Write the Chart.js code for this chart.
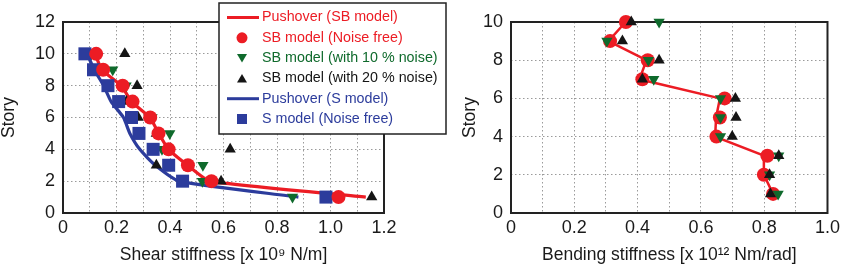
<!DOCTYPE html>
<html>
<head>
<meta charset="utf-8">
<title>Shear and bending stiffness per story</title>
<script src="https://cdn.jsdelivr.net/npm/chart.js"></script>
<style>
  html, body { margin: 0; padding: 0; background: #fff; }
  #wrap { position: relative; width: 844px; height: 267px; }
  #shearChart { position: absolute; left: 0; top: 0; }
  #bendChart { position: absolute; left: 450px; top: 0; }
</style>
</head>
<body>
<div id="wrap">
  <canvas id="shearChart" width="450" height="267"></canvas>
  <canvas id="bendChart" width="394" height="267"></canvas>
</div>
<script>
var stories = [1, 2, 3, 4, 5, 6, 7, 8, 9, 10];

// shear stiffness, x 10^9 N/m (story 1 .. 10)
var shearPushSB = [1.132, 0.548, 0.466, 0.394, 0.358, 0.325, 0.256, 0.218, 0.145, 0.120];
var shearSB     = [1.030, 0.555, 0.467, 0.395, 0.357, 0.326, 0.260, 0.223, 0.150, 0.124];
var shearSB10   = [0.858, 0.521, 0.523, 0.370, 0.399, 0.333, 0.255, 0.236, 0.186, 0.106];
var shearSB20   = [1.154, 0.591, 0.349, 0.625, 0.349, 0.281, 0.237, 0.277, 0.148, 0.231];
var shearPushS  = [0.880, 0.435, 0.345, 0.287, 0.250, 0.226, 0.180, 0.152, 0.117, 0.090];
var shearS      = [0.983, 0.447, 0.395, 0.337, 0.284, 0.256, 0.208, 0.168, 0.114, 0.082];

// bending stiffness, x 10^12 Nm/rad (story 1 .. 10)
var bendPushSB = [0.828, 0.799, 0.799, 0.645, 0.648, 0.660, 0.406, 0.428, 0.308, 0.362];
var bendSB     = [0.828, 0.799, 0.810, 0.649, 0.660, 0.675, 0.415, 0.432, 0.313, 0.363];
var bendSB10   = [0.844, 0.817, 0.846, 0.662, 0.662, 0.662, 0.451, 0.434, 0.303, 0.468];
var bendSB20   = [0.820, 0.817, 0.846, 0.699, 0.711, 0.709, 0.415, 0.468, 0.352, 0.380];

// labels for every second grid line (grid is every 0.1)
var shearTickLabels = ['0', '0.2', '0.4', '0.6', '0.8', '1.0', '1.2'];
var bendTickLabels  = ['0', '0.2', '0.4', '0.6', '0.8', '1.0'];

var RED = '#ec1c24', GREEN = '#0f6a2c', BLACK = '#151515', BLUE = '#2c3c9c';

Chart.defaults.font.family = "'Liberation Sans', Arial, sans-serif";
Chart.defaults.font.size = 18;
Chart.defaults.color = '#1a1a1a';

function pts(xs) {
    return xs.map(function(v, i) { return {x: v, y: stories[i]}; });
}

function lineSet(label, xs, color, width, order, tension) {
    return { label: label, data: pts(xs), showLine: true, borderColor: color, borderWidth: width,
             pointRadius: 0, tension: tension, order: order, clip: false };
}

function markSet(label, xs, color, style, radius, rotation, order) {
    return { label: label, data: pts(xs), showLine: false, pointStyle: style, pointRadius: radius,
             pointRotation: rotation, backgroundColor: color, borderColor: color, pointBorderWidth: 0,
             order: order, clip: false };
}

// black frame round the plot area
var framePlugin = {
    id: 'frame',
    beforeDatasetsDraw: function(chart) {
        var a = chart.chartArea, ctx = chart.ctx;
        ctx.save();
        ctx.strokeStyle = '#222';
        ctx.lineWidth = 2;
        ctx.strokeRect(a.left, a.top, a.right - a.left, a.bottom - a.top);
        ctx.restore();
    }
};

function scales(xMax, xLabels, xTitle, yMax, yWidth, xHeight, yTitlePad) {
    return {
        x: {
            type: 'linear', min: 0, max: xMax,
            afterFit: function(s) { s.height = xHeight; },
            ticks: {
                stepSize: 0.1, autoSkip: false, maxRotation: 0, padding: 4,
                callback: function(v, i) { return i % 2 === 0 ? xLabels[i / 2] : ''; }
            },
            grid: { color: '#9a9a9a', drawTicks: false },
            border: { display: false, dash: [1.5, 2.5] },
            title: { display: true, text: xTitle, font: { size: 17.5, lineHeight: 1 }, padding: { top: 0, bottom: 3.5 } }
        },
        y: {
            min: 0, max: yMax,
            afterFit: function(s) { s.width = yWidth; },
            ticks: { stepSize: 2, padding: 8 },
            grid: { color: '#9a9a9a', drawTicks: false },
            border: { display: false, dash: [1.5, 2.5] },
            title: { display: true, text: 'Story', font: { size: 17.5, lineHeight: 1 }, padding: { top: yTitlePad, bottom: 0 } }
        }
    };
}

var legendItems = [
    { text: 'Pushover (SB model)', color: RED, kind: 'line' },
    { text: 'SB model (Noise free)', color: RED, kind: 'circle' },
    { text: 'SB model (with 10 % noise)', color: GREEN, kind: 'down' },
    { text: 'SB model (with 20 % noise)', color: BLACK, kind: 'up' },
    { text: 'Pushover (S model)', color: BLUE, kind: 'line' },
    { text: 'S model (Noise free)', color: BLUE, kind: 'square' }
];

// boxed legend drawn over the top right of the shear plot
var boxLegend = {
    id: 'boxLegend',
    afterDraw: function(chart) {
        var ctx = chart.ctx;
        ctx.save();
        ctx.fillStyle = '#fff';
        ctx.fillRect(219, 3, 227, 131);
        ctx.strokeStyle = '#222';
        ctx.lineWidth = 1.5;
        ctx.strokeRect(219, 3, 227, 131);
        ctx.font = "14.3px 'Liberation Sans', Arial, sans-serif";
        ctx.textBaseline = 'middle';
        legendItems.forEach(function(it, i) {
            var y = 17.5 + i * 20.3, cx = 242;
            ctx.fillStyle = it.color;
            ctx.strokeStyle = it.color;
            ctx.beginPath();
            if (it.kind === 'line') {
                ctx.lineWidth = 3;
                ctx.moveTo(227, y); ctx.lineTo(259, y); ctx.stroke();
            } else if (it.kind === 'circle') {
                ctx.arc(cx, y, 5.5, 0, Math.PI * 2); ctx.fill();
            } else if (it.kind === 'down') {
                ctx.moveTo(cx - 5, y - 4); ctx.lineTo(cx + 5, y - 4); ctx.lineTo(cx, y + 4.5);
                ctx.closePath(); ctx.fill();
            } else if (it.kind === 'up') {
                ctx.moveTo(cx - 5, y + 4); ctx.lineTo(cx + 5, y + 4); ctx.lineTo(cx, y - 4.5);
                ctx.closePath(); ctx.fill();
            } else {
                ctx.fillRect(cx - 5, y - 5, 10, 10);
            }
            ctx.fillText(it.text, 262, y);
        });
        ctx.restore();
    }
};

new Chart(document.getElementById('shearChart'), {
    type: 'scatter',
    data: {
        datasets: [
            markSet('SB model (Noise free)', shearSB, RED, 'circle', 7, 0, 1),
            markSet('S model (Noise free)', shearS, BLUE, 'rect', 9.2, 0, 2),
            markSet('SB model (with 20 % noise)', shearSB20, BLACK, 'triangle', 6.5, 0, 3),
            markSet('SB model (with 10 % noise)', shearSB10, GREEN, 'triangle', 6.5, 180, 4),
            lineSet('Pushover (SB model)', shearPushSB, RED, 3.2, 5, 0.15),
            lineSet('Pushover (S model)', shearPushS, BLUE, 3.2, 6, 0.2)
        ]
    },
    options: {
        responsive: false,
        animation: false,
        layout: { padding: { left: 0, top: 22, right: 66, bottom: 0 } },
        plugins: { legend: { display: false }, tooltip: { enabled: false } },
        scales: scales(1.2, shearTickLabels, 'Shear stiffness [x 10\u2079 N/m]', 12, 63, 54, 0.5)
    },
    plugins: [framePlugin, boxLegend]
});

new Chart(document.getElementById('bendChart'), {
    type: 'scatter',
    data: {
        datasets: [
            markSet('SB model (with 20 % noise)', bendSB20, BLACK, 'triangle', 6.5, 0, 1),
            markSet('SB model (with 10 % noise)', bendSB10, GREEN, 'triangle', 6.5, 180, 2),
            markSet('SB model (Noise free)', bendSB, RED, 'circle', 7, 0, 3),
            lineSet('Pushover (SB model)', bendPushSB, RED, 2.5, 4, 0)
        ]
    },
    options: {
        responsive: false,
        animation: false,
        layout: { padding: { left: 0, top: 22, right: 11, bottom: 0 } },
        plugins: { legend: { display: false }, tooltip: { enabled: false } },
        scales: scales(1.0, bendTickLabels, 'Bending stiffness [x 10\u00b9\u00b2 Nm/rad]', 10, 61, 54, 11.5)
    },
    plugins: [framePlugin]
});
</script>
</body>
</html>
